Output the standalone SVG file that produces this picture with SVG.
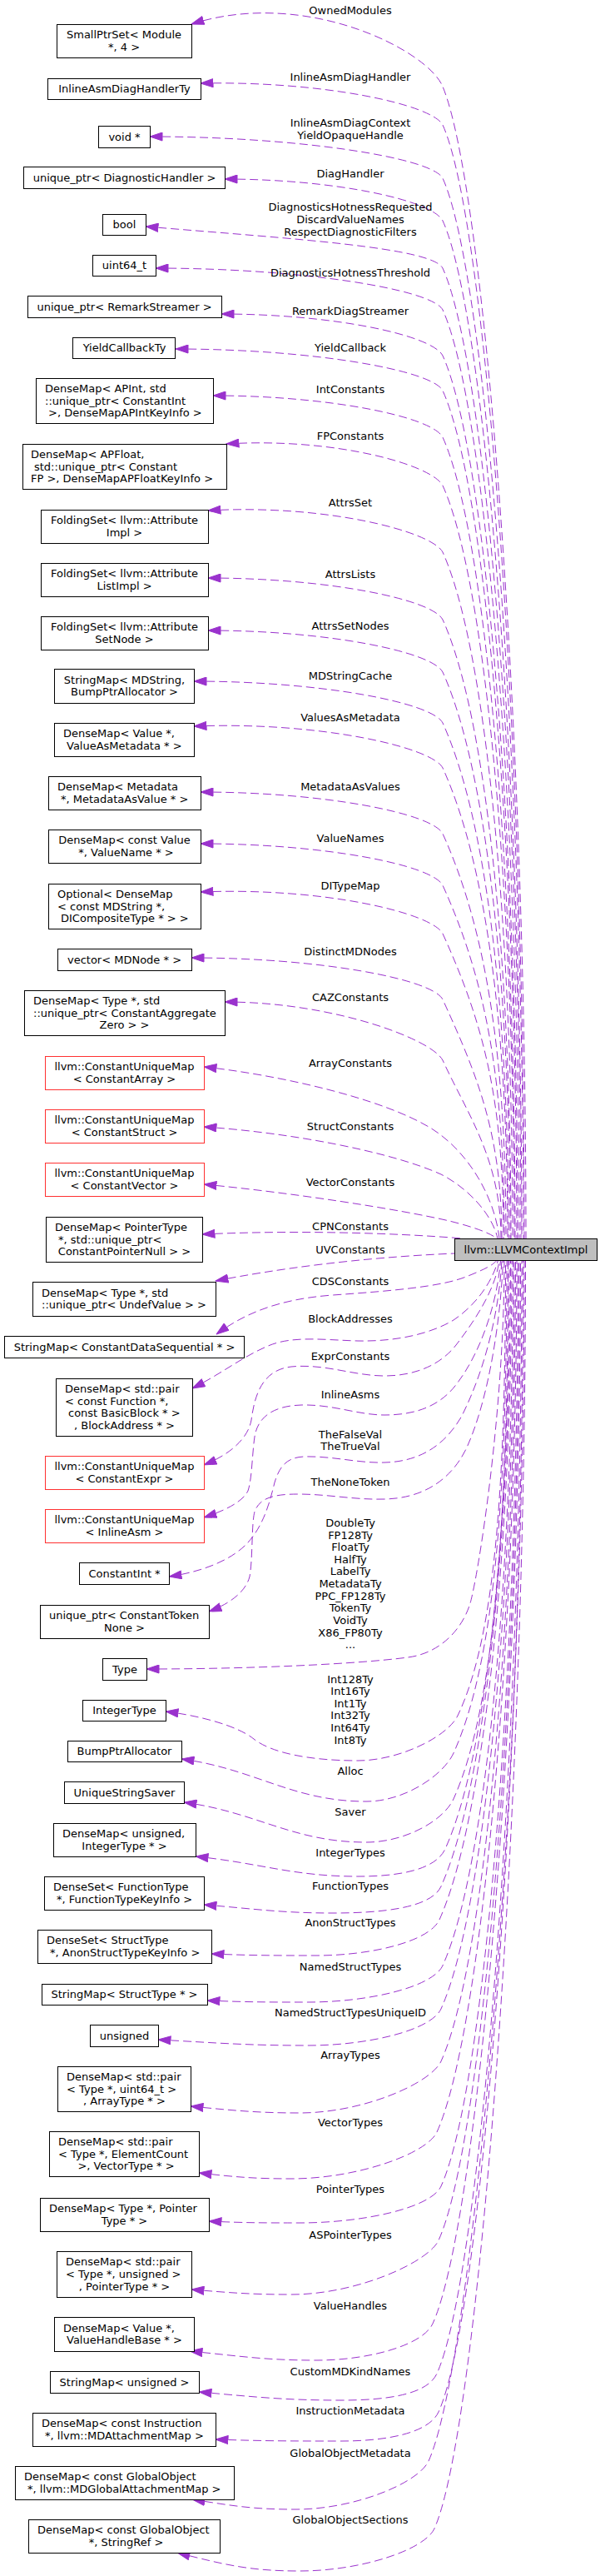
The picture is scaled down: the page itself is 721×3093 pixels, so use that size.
<svg xmlns="http://www.w3.org/2000/svg" width="721" height="3093" viewBox="0 0 721 3093">
<style>
.node rect{fill:#fff;stroke:#000;stroke-width:1}
.red rect{stroke:#ff3030}
.tgt rect{fill:#bfbfbf}
text{font-family:"DejaVu Sans","Liberation Sans",sans-serif;font-size:13px;fill:#000}
.c{text-anchor:middle}
.e{fill:none;stroke:#9a32cd;stroke-width:1;stroke-dasharray:10,5;marker-start:url(#ah)}
.lbl{text-anchor:middle}
</style>
<defs>
<marker id="ah" markerUnits="userSpaceOnUse" markerWidth="16" markerHeight="11" viewBox="-0.5 -0.5 16 11" refX="15" refY="5" orient="auto-start-reverse">
<path d="M0,0 L15,5 L0,10 Z" fill="#9a32cd" stroke="#9a32cd" stroke-width="1" stroke-dasharray="none"/>
</marker>
</defs>
<rect x="0" y="0" width="721" height="3093" fill="#fff"/>

<g id="edges">
<g id="e1"><path class="e" d="M230,29 C366,-15 514,60 532,104 C582,224 632,865 632,1487"/><text class="lbl" x="421" y="16.5">OwnedModules</text></g>
<g id="e2"><path class="e" d="M241,100 C386,97 519,125 532,150 C584,265 630,885 630,1487"/><text class="lbl" x="421" y="96.5">InlineAsmDiagHandler</text></g>
<g id="e3"><path class="e" d="M180,164 C356,164 519,189 532,214 C584,329 629,914 629,1487"/><text class="lbl" x="421" y="151.8">InlineAsmDiagContext</text><text class="lbl" x="421" y="167.2">YieldOpaqueHandle</text></g>
<g id="e4"><path class="e" d="M270,215 C401,215 519,240 532,265 C584,380 627,937 627,1487"/><text class="lbl" x="421" y="212.5">DiagHandler</text></g>
<g id="e5"><path class="e" d="M175,272 C354,287 519,297 532,322 C584,437 626,963 626,1487"/><text class="lbl" x="421" y="252.8">DiagnosticsHotnessRequested</text><text class="lbl" x="421" y="267.8">DiscardValueNames</text><text class="lbl" x="421" y="282.8">RespectDiagnosticFilters</text></g>
<g id="e6"><path class="e" d="M187,322 C360,322 519,347 532,372 C584,487 624,985 624,1487"/><text class="lbl" x="421" y="331.5">DiagnosticsHotnessThreshold</text></g>
<g id="e7"><path class="e" d="M266,377 C399,377 519,402 532,427 C584,542 622,1010 622,1487"/><text class="lbl" x="421" y="377.5">RemarkDiagStreamer</text></g>
<g id="e8"><path class="e" d="M211,419 C372,419 519,444 532,469 C584,584 621,1029 621,1487"/><text class="lbl" x="421" y="421.5">YieldCallback</text></g>
<g id="e9"><path class="e" d="M256,475 C394,475 519,500 532,525 C584,640 619,1054 619,1487"/><text class="lbl" x="421" y="471.5">IntConstants</text></g>
<g id="e10"><path class="e" d="M272,533 C402,525 519,558 532,583 C584,698 618,1080 618,1487"/><text class="lbl" x="421" y="527.5">FPConstants</text></g>
<g id="e11"><path class="e" d="M250,613 C391,605 519,638 532,663 C584,778 616,1116 616,1487"/><text class="lbl" x="421" y="607.5">AttrsSet</text></g>
<g id="e12"><path class="e" d="M250,694 C391,694 519,719 532,744 C584,859 614,1153 614,1487"/><text class="lbl" x="421" y="693.5">AttrsLists</text></g>
<g id="e13"><path class="e" d="M250,757 C391,757 519,782 532,807 C584,922 613,1181 613,1487"/><text class="lbl" x="421" y="755.5">AttrsSetNodes</text></g>
<g id="e14"><path class="e" d="M233,818 C383,818 519,843 532,868 C584,983 611,1208 611,1487"/><text class="lbl" x="421" y="815.5">MDStringCache</text></g>
<g id="e15"><path class="e" d="M233,872 C383,866 519,897 532,922 C584,1037 610,1233 610,1487"/><text class="lbl" x="421" y="865.5">ValuesAsMetadata</text></g>
<g id="e16"><path class="e" d="M241,951 C387,951 519,976 532,1001 C584,1116 608,1268 608,1487"/><text class="lbl" x="421" y="948.5">MetadataAsValues</text></g>
<g id="e17"><path class="e" d="M241,1013 C387,1013 519,1038 532,1063 C584,1178 606,1296 606,1487"/><text class="lbl" x="421" y="1010.5">ValueNames</text></g>
<g id="e18"><path class="e" d="M241,1071 C387,1065 519,1096 532,1121 C582,1231 605,1322 605,1487"/><text class="lbl" x="421" y="1067.5">DITypeMap</text></g>
<g id="e19"><path class="e" d="M230,1150 C381,1150 519,1175 532,1200 C571,1286 603,1358 603,1487"/><text class="lbl" x="421" y="1146.5">DistinctMDNodes</text></g>
<g id="e20"><path class="e" d="M270,1203 C401,1203 519,1248 532,1273 C561,1337 602,1391 602,1487"/><text class="lbl" x="421" y="1201.5">CAZConstants</text></g>
<g id="e21"><path class="e" d="M245,1281 C330,1290 460,1318 520,1356 C565,1385 595,1440 600,1487"/><text class="lbl" x="421" y="1280.5">ArrayConstants</text></g>
<g id="e22"><path class="e" d="M245,1353 C350,1360 470,1383 530,1410 C565,1428 592,1460 598,1487"/><text class="lbl" x="421" y="1356.5">StructConstants</text></g>
<g id="e23"><path class="e" d="M245,1422 C350,1432 480,1452 540,1466 C568,1473 588,1480 597,1487"/><text class="lbl" x="421" y="1423.5">VectorConstants</text></g>
<g id="e24"><path class="e" d="M243,1482 C350,1477 470,1480 556,1487"/><text class="lbl" x="421" y="1476.5">CPNConstants</text></g>
<g id="e25"><path class="e" d="M259,1538 C330,1524 430,1510 546,1505"/><text class="lbl" x="421" y="1504.5">UVConstants</text></g>
<g id="e26"><path class="e" d="M260,1602 C290,1580 330,1560 400,1555 C470,1550 530,1545 560,1533 C583,1524 594,1518 597,1513"/><text class="lbl" x="421" y="1543">CDSConstants</text></g>
<g id="e27"><path class="e" d="M231,1667 C265,1650 290,1630 320,1617 C350,1603 390,1609 430,1610 C480,1611 520,1600 545,1585 C575,1565 593,1535 598.5,1513"/><text class="lbl" x="421" y="1587.5">BlockAddresses</text></g>
<g id="e28"><path class="e" d="M245,1759 C275,1747 298,1728 302,1705 C306,1675 315,1645 350,1641 C390,1637 425,1652 462,1652 C500,1652 530,1638 548,1615 C575,1580 596,1545 600,1513"/><text class="lbl" x="421" y="1632.5">ExprConstants</text></g>
<g id="e29"><path class="e" d="M245,1822 C270,1814 292,1803 298,1790 C303,1775 303,1745 306,1725 C310,1700 330,1688 362,1687 C400,1686 430,1699 462,1699 C500,1699 530,1688 550,1660 C580,1620 598,1560 601.5,1513"/><text class="lbl" x="421" y="1678.5">InlineAsms</text></g>
<g id="e30"><path class="e" d="M203,1893 C245,1887 280,1872 298,1852 C318,1830 325,1800 330,1780 C336,1760 345,1750 365,1749 C400,1748 430,1757 462,1756 C505,1755 535,1735 555,1700 C585,1640 600,1570 603,1513"/><text class="lbl" x="421" y="1726.5">TheFalseVal</text><text class="lbl" x="421" y="1741">TheTrueVal</text></g>
<g id="e31"><path class="e" d="M251,1935 C275,1926 295,1912 300,1893 C304,1870 302,1830 306,1815 C312,1798 330,1794 358,1794 C395,1794 425,1801 462,1800 C505,1799 540,1780 560,1740 C588,1680 602,1580 604.5,1513"/><text class="lbl" x="421" y="1783.5">TheNoneToken</text></g>
<g id="e32"><path class="e" d="M176,2004 C300,2004 430,1998 490,1990 C530,1985 556,1955 565,1925 C574,1895 606,1698 606,1513"/><text class="lbl" x="421" y="1832.8">DoubleTy</text><text class="lbl" x="421" y="1847.5">FP128Ty</text><text class="lbl" x="421" y="1862.1">FloatTy</text><text class="lbl" x="421" y="1876.8">HalfTy</text><text class="lbl" x="421" y="1891.4">LabelTy</text><text class="lbl" x="421" y="1906">MetadataTy</text><text class="lbl" x="421" y="1920.7">PPC_FP128Ty</text><text class="lbl" x="421" y="1935.4">TokenTy</text><text class="lbl" x="421" y="1950">VoidTy</text><text class="lbl" x="421" y="1964.7">X86_FP80Ty</text><text class="lbl" x="421" y="1979.3">...</text></g>
<g id="e33"><path class="e" d="M199,2055 C240,2060 285,2072 305,2088 C325,2104 370,2114 430,2114 C480,2114 538,2085 550,2060 C598,1960 607.5,1760 607.5,1513"/><text class="lbl" x="421" y="2020.5">Int128Ty</text><text class="lbl" x="421" y="2035.1">Int16Ty</text><text class="lbl" x="421" y="2049.7">Int1Ty</text><text class="lbl" x="421" y="2064.3">Int32Ty</text><text class="lbl" x="421" y="2078.9">Int64Ty</text><text class="lbl" x="421" y="2093.5">Int8Ty</text></g>
<g id="e34"><path class="e" d="M218,2112 C307,2124 351,2163 440,2163 C487,2163 533,2131 545,2105 C597,1990 609,1779 609,1513"/><text class="lbl" x="421" y="2130.5">Alloc</text></g>
<g id="e35"><path class="e" d="M221,2164 C309,2176 352,2212 440,2212 C487,2212 533,2186 545,2160 C597,2045 610.5,1804 610.5,1513"/><text class="lbl" x="421" y="2179.5">Saver</text></g>
<g id="e36"><path class="e" d="M235,2229 C313,2237 352,2253 430,2253 C477,2253 523,2246 535,2220 C587,2105 612,1831 612,1513"/><text class="lbl" x="421" y="2228.5">IntegerTypes</text></g>
<g id="e37"><path class="e" d="M245,2287 C307,2292 338,2297 400,2297 C459,2297 518,2291 530,2265 C582,2150 613.5,1851 613.5,1513"/><text class="lbl" x="421" y="2268.5">FunctionTypes</text></g>
<g id="e38"><path class="e" d="M254,2346 C304,2348 330,2348 380,2348 C447,2348 516,2331 528,2305 C580,2190 615,1869 615,1513"/><text class="lbl" x="421" y="2312.5">AnonStructTypes</text></g>
<g id="e39"><path class="e" d="M249,2402 C297,2404 322,2404 370,2404 C443,2404 520,2386 532,2360 C584,2245 616.5,1894 616.5,1513"/><text class="lbl" x="421" y="2365.5">NamedStructTypes</text></g>
<g id="e40"><path class="e" d="M190,2449 C262,2453 298,2456 370,2456 C442,2456 518,2438 530,2412 C582,2297 618,1918 618,1513"/><text class="lbl" x="421" y="2420.5">NamedStructTypesUniqueID</text></g>
<g id="e41"><path class="e" d="M229,2529 C281,2534 308,2537 360,2537 C437,2537 518,2501 530,2475 C582,2360 619.5,1946 619.5,1513"/><text class="lbl" x="421" y="2471.5">ArrayTypes</text></g>
<g id="e42"><path class="e" d="M239,2609 C283,2614 306,2616 350,2616 C429,2616 513,2586 525,2560 C577,2445 621,1984 621,1513"/><text class="lbl" x="421" y="2552.5">VectorTypes</text></g>
<g id="e43"><path class="e" d="M251,2667 C295,2669 316,2669 360,2669 C437,2669 518,2651 530,2625 C582,2510 622.5,2013 622.5,1513"/><text class="lbl" x="421" y="2632.5">PointerTypes</text></g>
<g id="e44"><path class="e" d="M230,2749 C278,2753 302,2755 350,2755 C429,2755 515,2716 527,2690 C579,2575 624,2043 624,1513"/><text class="lbl" x="421" y="2687.5">ASPointerTypes</text></g>
<g id="e45"><path class="e" d="M228,2823 C289,2829 319,2834 380,2834 C443,2834 508,2816 520,2790 C572,2675 625.5,2088 625.5,1513"/><text class="lbl" x="421" y="2772.5">ValueHandles</text></g>
<g id="e46"><path class="e" d="M239,2872 C307,2878 342,2882 410,2882 C462,2882 513,2876 525,2850 C577,2735 627,2115 627,1513"/><text class="lbl" x="421" y="2851.5">CustomMDKindNames</text></g>
<g id="e47"><path class="e" d="M259,2929 C319,2931 350,2931 410,2931 C463,2931 515,2922 527,2896 C579,2781 628.5,2135 628.5,1513"/><text class="lbl" x="421" y="2898.5">InstructionMetadata</text></g>
<g id="e48"><path class="e" d="M231,3001 C281,3009 305,3013 355,3013 C427,3013 503,2981 515,2955 C567,2840 630,2162 630,1513"/><text class="lbl" x="421" y="2949.5">GlobalObjectMetadata</text></g>
<g id="e49"><path class="e" d="M213,3065 C272,3080 301,3087 360,3087 C433,3087 510,3062 522,3036 C574,2921 631.5,2198 631.5,1513"/><text class="lbl" x="421" y="3029.5">GlobalObjectSections</text></g>
</g>

<g id="target" class="node tgt"><rect x="546.5" y="1487.5" width="171" height="26"/><text x="632" y="1504.5" class="c">llvm::LLVMContextImpl</text></g>

<g id="n1" class="node"><rect x="68.5" y="29.5" width="162" height="40"/><text x="149" y="46.2" class="c">SmallPtrSet&lt; Module</text><text x="149" y="60.8" class="c">*, 4 &gt;</text></g>
<g id="n2" class="node"><rect x="57.5" y="94.5" width="184" height="25"/><text x="149.5" y="111" class="c">InlineAsmDiagHandlerTy</text></g>
<g id="n3" class="node"><rect x="118.5" y="151.5" width="62" height="26"/><text x="149.5" y="168.5" class="c">void *</text></g>
<g id="n4" class="node"><rect x="28.5" y="200.5" width="242" height="26"/><text x="149.5" y="217.5" class="c">unique_ptr&lt; DiagnosticHandler &gt;</text></g>
<g id="n5" class="node"><rect x="123.5" y="257.5" width="52" height="25"/><text x="149.5" y="274" class="c">bool</text></g>
<g id="n6" class="node"><rect x="111.5" y="306.5" width="76" height="25"/><text x="149.5" y="323" class="c">uint64_t</text></g>
<g id="n7" class="node"><rect x="33.5" y="355.5" width="233" height="26"/><text x="149.5" y="372.5" class="c">unique_ptr&lt; RemarkStreamer &gt;</text></g>
<g id="n8" class="node"><rect x="87.5" y="405.5" width="123" height="25"/><text x="149.5" y="422" class="c">YieldCallbackTy</text></g>
<g id="n9" class="node"><rect x="43.5" y="454.5" width="213" height="54"/><text x="54" y="470.9">DenseMap&lt; APInt, std</text><text x="54" y="485.5">::unique_ptr&lt; ConstantInt</text><text x="58" y="500.1">&gt;, DenseMapAPIntKeyInfo &gt;</text></g>
<g id="n10" class="node"><rect x="27.5" y="533.5" width="245" height="54"/><text x="37" y="549.9">DenseMap&lt; APFloat,</text><text x="41" y="564.5">std::unique_ptr&lt; Constant</text><text x="37" y="579.1">FP &gt;, DenseMapAPFloatKeyInfo &gt;</text></g>
<g id="n11" class="node"><rect x="49.5" y="612.5" width="201" height="40"/><text x="149.5" y="629.2" class="c">FoldingSet&lt; llvm::Attribute</text><text x="149.5" y="643.8" class="c">Impl &gt;</text></g>
<g id="n12" class="node"><rect x="49.5" y="676.5" width="201" height="40"/><text x="149.5" y="693.2" class="c">FoldingSet&lt; llvm::Attribute</text><text x="149.5" y="707.8" class="c">ListImpl &gt;</text></g>
<g id="n13" class="node"><rect x="49.5" y="740.5" width="201" height="40"/><text x="149.5" y="757.2" class="c">FoldingSet&lt; llvm::Attribute</text><text x="149.5" y="771.8" class="c">SetNode &gt;</text></g>
<g id="n14" class="node"><rect x="65.5" y="803.5" width="168" height="41"/><text x="149.5" y="820.7" class="c">StringMap&lt; MDString,</text><text x="149.5" y="835.3" class="c">BumpPtrAllocator &gt;</text></g>
<g id="n15" class="node"><rect x="65.5" y="868.5" width="168" height="40"/><text x="76" y="885.2">DenseMap&lt; Value *,</text><text x="80" y="899.8">ValueAsMetadata * &gt;</text></g>
<g id="n16" class="node"><rect x="58.5" y="932.5" width="183" height="40"/><text x="69" y="949.2">DenseMap&lt; Metadata</text><text x="73" y="963.8">*, MetadataAsValue * &gt;</text></g>
<g id="n17" class="node"><rect x="58.5" y="996.5" width="183" height="40"/><text x="149.5" y="1013.2" class="c">DenseMap&lt; const Value</text><text x="151.5" y="1027.8" class="c">*, ValueName * &gt;</text></g>
<g id="n18" class="node"><rect x="58.5" y="1061.5" width="183" height="54"/><text x="69" y="1077.9">Optional&lt; DenseMap</text><text x="69" y="1092.5">&lt; const MDString *,</text><text x="73" y="1107.1">DICompositeType * &gt; &gt;</text></g>
<g id="n19" class="node"><rect x="69.5" y="1139.5" width="161" height="26"/><text x="149.5" y="1156.5" class="c">vector&lt; MDNode * &gt;</text></g>
<g id="n20" class="node"><rect x="29.5" y="1189.5" width="241" height="54"/><text x="40" y="1205.9">DenseMap&lt; Type *, std</text><text x="40" y="1220.5">::unique_ptr&lt; ConstantAggregate</text><text x="149.5" y="1235.1" class="c">Zero &gt; &gt;</text></g>
<g id="n21" class="node red"><rect x="54.5" y="1268.5" width="191" height="40"/><text x="149.5" y="1285.2" class="c">llvm::ConstantUniqueMap</text><text x="149.5" y="1299.8" class="c">&lt; ConstantArray &gt;</text></g>
<g id="n22" class="node red"><rect x="54.5" y="1332.5" width="191" height="40"/><text x="149.5" y="1349.2" class="c">llvm::ConstantUniqueMap</text><text x="149.5" y="1363.8" class="c">&lt; ConstantStruct &gt;</text></g>
<g id="n23" class="node red"><rect x="54.5" y="1396.5" width="191" height="40"/><text x="149.5" y="1413.2" class="c">llvm::ConstantUniqueMap</text><text x="149.5" y="1427.8" class="c">&lt; ConstantVector &gt;</text></g>
<g id="n24" class="node"><rect x="55.5" y="1461.5" width="188" height="54"/><text x="66" y="1477.9">DenseMap&lt; PointerType</text><text x="70" y="1492.5">*, std::unique_ptr&lt;</text><text x="149.5" y="1507.1" class="c">ConstantPointerNull &gt; &gt;</text></g>
<g id="n25" class="node"><rect x="39.5" y="1539.5" width="220" height="41"/><text x="50" y="1556.7">DenseMap&lt; Type *, std</text><text x="50" y="1571.3">::unique_ptr&lt; UndefValue &gt; &gt;</text></g>
<g id="n26" class="node"><rect x="5.5" y="1604.5" width="288" height="26"/><text x="149.5" y="1621.5" class="c">StringMap&lt; ConstantDataSequential * &gt;</text></g>
<g id="n27" class="node"><rect x="67.5" y="1655.5" width="164" height="69"/><text x="78" y="1672.1">DenseMap&lt; std::pair</text><text x="78" y="1686.7">&lt; const Function *,</text><text x="82" y="1701.3">const BasicBlock * &gt;</text><text x="149.5" y="1715.9" class="c">, BlockAddress * &gt;</text></g>
<g id="n28" class="node red"><rect x="54.5" y="1748.5" width="191" height="40"/><text x="149.5" y="1765.2" class="c">llvm::ConstantUniqueMap</text><text x="149.5" y="1779.8" class="c">&lt; ConstantExpr &gt;</text></g>
<g id="n29" class="node red"><rect x="54.5" y="1812.5" width="191" height="40"/><text x="149.5" y="1829.2" class="c">llvm::ConstantUniqueMap</text><text x="149.5" y="1843.8" class="c">&lt; InlineAsm &gt;</text></g>
<g id="n30" class="node"><rect x="95.5" y="1876.5" width="108" height="26"/><text x="149.5" y="1893.5" class="c">ConstantInt *</text></g>
<g id="n31" class="node"><rect x="48.5" y="1927.5" width="203" height="40"/><text x="59" y="1944.2">unique_ptr&lt; ConstantToken</text><text x="149.5" y="1958.8" class="c">None &gt;</text></g>
<g id="n32" class="node"><rect x="123.5" y="1991.5" width="53" height="26"/><text x="150" y="2008.5" class="c">Type</text></g>
<g id="n33" class="node"><rect x="99.5" y="2041.5" width="100" height="25"/><text x="149.5" y="2058" class="c">IntegerType</text></g>
<g id="n34" class="node"><rect x="81.5" y="2090.5" width="137" height="25"/><text x="149.5" y="2107" class="c">BumpPtrAllocator</text></g>
<g id="n35" class="node"><rect x="77.5" y="2139.5" width="144" height="26"/><text x="149.5" y="2156.5" class="c">UniqueStringSaver</text></g>
<g id="n36" class="node"><rect x="64.5" y="2189.5" width="171" height="40"/><text x="75" y="2206.2">DenseMap&lt; unsigned,</text><text x="149.5" y="2220.8" class="c">IntegerType * &gt;</text></g>
<g id="n37" class="node"><rect x="53.5" y="2253.5" width="192" height="40"/><text x="64" y="2270.2">DenseSet&lt; FunctionType</text><text x="68" y="2284.8">*, FunctionTypeKeyInfo &gt;</text></g>
<g id="n38" class="node"><rect x="45.5" y="2317.5" width="209" height="40"/><text x="56" y="2334.2">DenseSet&lt; StructType</text><text x="60" y="2348.8">*, AnonStructTypeKeyInfo &gt;</text></g>
<g id="n39" class="node"><rect x="50.5" y="2382.5" width="199" height="25"/><text x="149.5" y="2399" class="c">StringMap&lt; StructType * &gt;</text></g>
<g id="n40" class="node"><rect x="108.5" y="2431.5" width="82" height="26"/><text x="149.5" y="2448.5" class="c">unsigned</text></g>
<g id="n41" class="node"><rect x="69.5" y="2481.5" width="160" height="54"/><text x="80" y="2497.9">DenseMap&lt; std::pair</text><text x="80" y="2512.5">&lt; Type *, uint64_t &gt;</text><text x="149.5" y="2527.1" class="c">, ArrayType * &gt;</text></g>
<g id="n42" class="node"><rect x="59.5" y="2559.5" width="180" height="54"/><text x="70" y="2575.9">DenseMap&lt; std::pair</text><text x="70" y="2590.5">&lt; Type *, ElementCount</text><text x="151.5" y="2605.1" class="c">&gt;, VectorType * &gt;</text></g>
<g id="n43" class="node"><rect x="48.5" y="2639.5" width="203" height="40"/><text x="59" y="2656.2">DenseMap&lt; Type *, Pointer</text><text x="149.5" y="2670.8" class="c">Type * &gt;</text></g>
<g id="n44" class="node"><rect x="68.5" y="2703.5" width="162" height="55"/><text x="79" y="2720.4">DenseMap&lt; std::pair</text><text x="79" y="2735">&lt; Type *, unsigned &gt;</text><text x="149.5" y="2749.6" class="c">, PointerType * &gt;</text></g>
<g id="n45" class="node"><rect x="65.5" y="2782.5" width="168" height="41"/><text x="76" y="2799.7">DenseMap&lt; Value *,</text><text x="80" y="2814.3">ValueHandleBase * &gt;</text></g>
<g id="n46" class="node"><rect x="60.5" y="2847.5" width="179" height="26"/><text x="149.5" y="2864.5" class="c">StringMap&lt; unsigned &gt;</text></g>
<g id="n47" class="node"><rect x="39.5" y="2897.5" width="220" height="40"/><text x="50" y="2914.2">DenseMap&lt; const Instruction</text><text x="54" y="2928.8">*, llvm::MDAttachmentMap &gt;</text></g>
<g id="n48" class="node"><rect x="18.5" y="2961.5" width="263" height="40"/><text x="29" y="2978.2">DenseMap&lt; const GlobalObject</text><text x="33" y="2992.8">*, llvm::MDGlobalAttachmentMap &gt;</text></g>
<g id="n49" class="node"><rect x="34.5" y="3025.5" width="230" height="40"/><text x="45" y="3042.2">DenseMap&lt; const GlobalObject</text><text x="151.5" y="3056.8" class="c">*, StringRef &gt;</text></g>
</svg>
